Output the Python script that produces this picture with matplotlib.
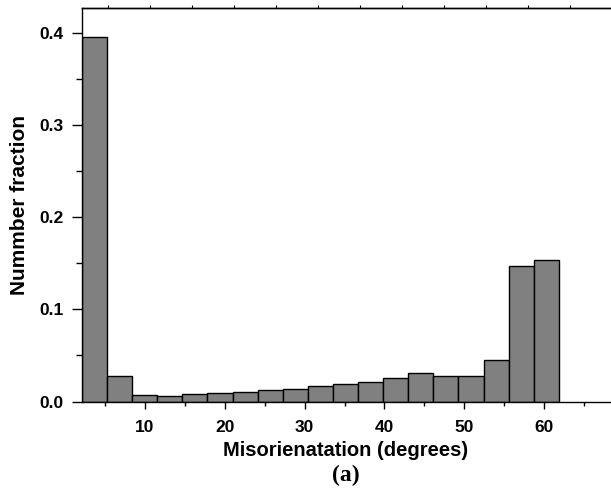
import numpy as np
import matplotlib.pyplot as plt
from matplotlib.ticker import MultipleLocator

# histograma de desorientacion
bin_start = 2.1
bin_width = 3.145
fractions = [0.395, 0.0273, 0.0067, 0.0063, 0.0078, 0.0089, 0.0103, 0.0125,
             0.0132, 0.0165, 0.019, 0.0208, 0.0252, 0.0306, 0.0277, 0.0277,
             0.0447, 0.147, 0.1535]
x_ticks = [10, 20, 30, 40, 50, 60]
y_ticks = [0.0, 0.1, 0.2, 0.3, 0.4]

lefts = bin_start + bin_width * np.arange(len(fractions))

fig = plt.figure(figsize=(6.11, 4.91), dpi=100)
ax = fig.add_axes([82 / 611, 1 - 401.5 / 491, 528 / 611, 393.5 / 491])

ax.bar(lefts, fractions, width=bin_width, align='edge', color='#808080',
       edgecolor='black', linewidth=1.0)

ax.set_xlim(2.1, 68.26)
ax.set_ylim(0, 0.427)
ax.set_xticks(x_ticks)
ax.set_yticks(y_ticks)
ax.set_yticklabels(['{:.1f}'.format(v) for v in y_ticks])
ax.xaxis.set_minor_locator(MultipleLocator(5))
ax.yaxis.set_minor_locator(MultipleLocator(0.05))

ax.spines['right'].set_visible(False)
for s in ['left', 'bottom', 'top']:
    ax.spines[s].set_linewidth(1.0)

# marcas del eje superior (cortitas, separadas distinto)
top = ax.secondary_xaxis('top')
top.set_xticks(np.arange(5.36, 68, 5.26))
top.tick_params(direction='out', length=2, width=0.8, labeltop=False)
top.spines['top'].set_linewidth(1.0)

ax.tick_params(axis='y', which='major', direction='out', length=7, width=1.0,
               labelsize=12.5, pad=6)
ax.tick_params(axis='y', which='minor', direction='out', length=4, width=1.0)
ax.tick_params(axis='x', which='major', direction='out', length=5, width=1.0,
               labelsize=12.5, pad=8)
ax.tick_params(axis='x', which='minor', direction='out', length=3, width=1.0)
for lab in ax.get_xticklabels() + ax.get_yticklabels():
    lab.set_fontfamily('Liberation Sans')
    lab.set_fontweight('bold')

ax.set_xlabel('Misorienatation (degrees)', fontsize=14.5, fontweight='bold',
              family='Liberation Sans', labelpad=5)
ax.set_ylabel('Nummber fraction', fontsize=15, fontweight='bold',
              family='Liberation Sans', labelpad=8)
fig.text((82 + 610) / 2 / 611, 1 - 475 / 491, '(a)', ha='center',
         va='center', fontsize=17, fontweight='bold', family='Liberation Serif')

fig.savefig('out.png', dpi=100)
